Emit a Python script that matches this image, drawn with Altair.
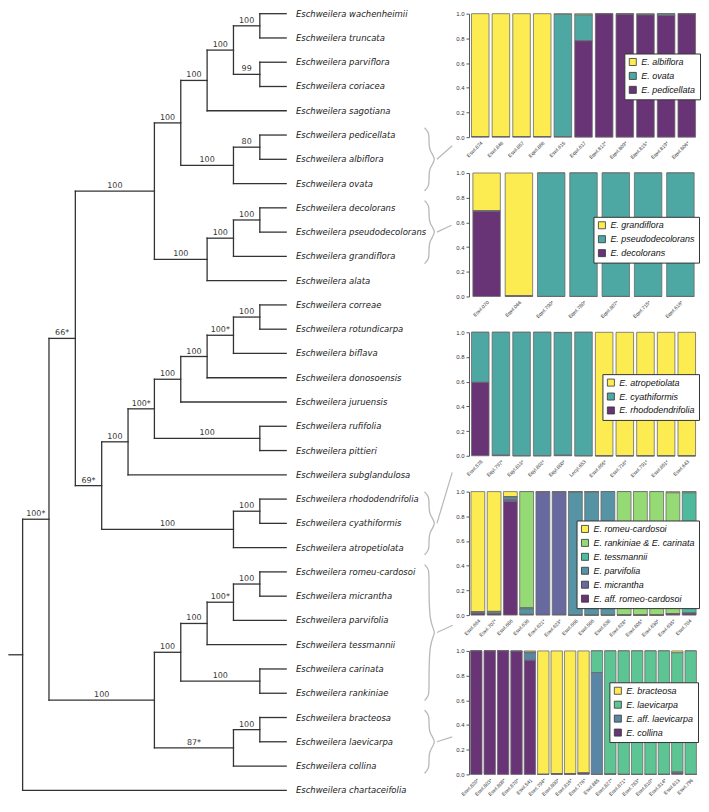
import altair as alt
import pandas as pd

# ---------------- Phylogeny (support label, children) ----------------
TREE = ("", [
    ("100*", [
        ("66*", [
            ("100", [
                ("100", [
                    ("100", [
                        ("100", [
                            ("100", ["wachenheimii", "truncata"]),
                            ("99", ["parviflora", "coriacea"]),
                        ]),
                        "sagotiana",
                    ]),
                    ("100", [
                        ("80", ["pedicellata", "albiflora"]),
                        "ovata",
                    ]),
                ]),
                ("100", [
                    ("100", [
                        ("100", ["decolorans", "pseudodecolorans"]),
                        "grandiflora",
                    ]),
                    "alata",
                ]),
            ]),
            ("69*", [
                ("100", [
                    ("100*", [
                        ("100", [
                            ("100", [
                                ("100*", [
                                    ("100", ["correae", "rotundicarpa"]),
                                    "biflava",
                                ]),
                                "donosoensis",
                            ]),
                            "juruensis",
                        ]),
                        ("100", ["rufifolia", "pittieri"]),
                    ]),
                    "subglandulosa",
                ]),
                ("100", [
                    ("100", ["rhododendrifolia", "cyathiformis"]),
                    "atropetiolata",
                ]),
            ]),
        ]),
        ("100", [
            ("100", [
                ("100", [
                    ("100*", [
                        ("100", ["romeu-cardosoi", "micrantha"]),
                        "parvifolia",
                    ]),
                    "tessmannii",
                ]),
                ("100", ["carinata", "rankiniae"]),
            ]),
            ("87*", [
                ("100", ["bracteosa", "laevicarpa"]),
                "collina",
            ]),
        ]),
    ]),
    "chartaceifolia",
])
GENUS = "Eschweilera"

# tip ranges (first, last tip index) linked to each bar panel
BRACE_TIPS = [(5, 7), (8, 10), (20, 22), (23, 28), (29, 31)]
# where each connector meets its panel (tree units: level, tip index)
CONNECTOR_ENDS = [(16.3, 5.44), (16.27, 8.72), (16.3, 18.9), (16.32, 25.2), (16.3, 29.8)]

# ---------------- Bar panels ----------------
P1_SPECIES = ["E. albiflora", "E. ovata", "E. pedicellata"]
P1_COLORS = ["#FDEC51", "#4DA7A3", "#693476"]
P1_SAMPLES = ["Eswl.874", "Eswl.846", "Eswl.857", "Eqwl.866", "Eswl.615", "Eqwl.617",
              "Eqwl.812*", "Eqwl.809*", "Eqwl.815*", "Eqwl.819*", "Eqwl.806*"]
P1_VALUES = [[0.995, 0.0, 0.005], [0.995, 0.0, 0.005], [0.995, 0.0, 0.005], [0.995, 0.0, 0.005],
             [0.005, 0.99, 0.005], [0.01, 0.21, 0.78], [0.0, 0.002, 0.998], [0.0, 0.005, 0.995],
             [0.005, 0.005, 0.99], [0.0, 0.012, 0.988], [0.0, 0.002, 0.998]]

P2_SPECIES = ["E. grandiflora", "E. pseudodecolorans", "E. decolorans"]
P2_COLORS = ["#FDEC51", "#4DA7A3", "#693476"]
P2_SAMPLES = ["Eswl.070", "Eqwl.066", "Eqwl.790*", "Eqwl.780*", "Eqwl.807*", "Eqwl.715*", "Eqwl.616*"]
P2_VALUES = [[0.305, 0.005, 0.69], [0.995, 0.0, 0.005], [0.0, 1.0, 0.0], [0.0, 1.0, 0.0],
             [0.0, 1.0, 0.0], [0.0, 1.0, 0.0], [0.0, 1.0, 0.0]]

P3_SPECIES = ["E. atropetiolata", "E. cyathiformis", "E. rhododendrifolia"]
P3_COLORS = ["#FDEC51", "#4DA7A3", "#693476"]
P3_SAMPLES = ["Eswl.578", "Eqyl.797*", "Eqyl.813*", "Eqyl.802*", "Eqyl.800*", "Lecyl.653",
              "Eswl.655*", "Eswl.716*", "Eswl.791*", "Eswl.851*", "Eswl.643"]
P3_VALUES = [[0.0, 0.405, 0.595], [0.0, 0.995, 0.005], [0.0, 1.0, 0.0], [0.0, 1.0, 0.0],
             [0.003, 0.992, 0.005], [0.0, 1.0, 0.0], [1.0, 0.0, 0.0], [1.0, 0.0, 0.0],
             [1.0, 0.0, 0.0], [1.0, 0.0, 0.0], [1.0, 0.0, 0.0]]

P4_SPECIES = ["E. romeu-cardosoi", "E. rankiniae & E. carinata", "E. tessmannii",
              "E. parvifolia", "E. micrantha", "E. aff. romeo-cardosoi"]
P4_COLORS = ["#FDEC51", "#95DA74", "#4EB99D", "#5593A5", "#67699F", "#693476"]
P4_SAMPLES = ["Eswl.664", "Eswl.707*", "Eswl.686", "Eswl.636", "Eswl.621*", "Eswl.623*", "Eswl.668",
              "Eswl.586", "Eswl.638", "Eswl.628*", "Eswl.605*", "Eswl.630*", "Eswl.635*", "Eswl.704"]
P4_VALUES = [[0.975, 0.0, 0.0, 0.01, 0.0, 0.015],
             [0.97, 0.005, 0.01, 0.005, 0.0, 0.01],
             [0.04, 0.005, 0.0, 0.02, 0.015, 0.92],
             [0.0, 0.94, 0.01, 0.045, 0.0, 0.005],
             [0.005, 0.0, 0.0, 0.0, 0.99, 0.005],
             [0.005, 0.0, 0.0, 0.0, 0.99, 0.005],
             [0.0, 0.005, 0.0, 0.995, 0.0, 0.0],
             [0.0, 0.0, 0.005, 0.995, 0.0, 0.0],
             [0.0, 0.0, 0.0, 1.0, 0.0, 0.0],
             [0.0, 1.0, 0.0, 0.0, 0.0, 0.0],
             [0.0, 1.0, 0.0, 0.0, 0.0, 0.0],
             [0.0, 1.0, 0.0, 0.0, 0.0, 0.0],
             [0.01, 0.98, 0.0, 0.0, 0.0, 0.01],
             [0.0, 0.01, 0.975, 0.0, 0.0, 0.015]]

P5_SPECIES = ["E. bracteosa", "E. laevicarpa", "E. aff. laevicarpa", "E. collina"]
P5_COLORS = ["#FDEC51", "#5DC594", "#5A86A5", "#693476"]
P5_SAMPLES = ["Eswl.820*", "Eswl.803*", "Eswl.808*", "Eswl.870*", "Eswl.541", "Eswl.794*",
              "Eswl.800*", "Eswl.816*", "Eswl.776*", "Eswl.885", "Eswl.827*", "Eswl.871*",
              "Eswl.783*", "Eswl.810*", "Eswl.814*", "Eswl.813", "Eswl.796"]
P5_VALUES = [[0.0, 0.0, 0.0, 1.0], [0.0, 0.0, 0.0, 1.0], [0.0, 0.0, 0.0, 1.0], [0.003, 0.0, 0.0, 0.997],
             [0.01, 0.005, 0.06, 0.925], [1.0, 0.0, 0.0, 0.0], [0.995, 0.0, 0.0, 0.005],
             [0.995, 0.0, 0.0, 0.005], [0.99, 0.0, 0.0, 0.01], [0.0, 0.175, 0.825, 0.0],
             [0.0, 0.997, 0.0, 0.003], [0.0, 1.0, 0.0, 0.0], [0.0, 1.0, 0.0, 0.0], [0.0, 1.0, 0.0, 0.0],
             [0.0, 1.0, 0.0, 0.0], [0.015, 0.965, 0.01, 0.01], [0.0, 1.0, 0.0, 0.0]]

PANELS = [
    (P1_SPECIES, P1_COLORS, P1_SAMPLES, P1_VALUES, 156, 40),
    (P2_SPECIES, P2_COLORS, P2_SAMPLES, P2_VALUES, 125, 44),
    (P3_SPECIES, P3_COLORS, P3_SAMPLES, P3_VALUES, 134, 42),
    (P4_SPECIES, P4_COLORS, P4_SAMPLES, P4_VALUES, 108, 29),
    (P5_SPECIES, P5_COLORS, P5_SAMPLES, P5_VALUES, 141, 31.5),
]

# ---------------- Tree layout (cladogram) ----------------
TIP_LEVEL = 10
tips = []


def layout(node):
    if isinstance(node, str):
        tips.append(node)
        return {"level": TIP_LEVEL, "y": len(tips) - 1, "label": "", "children": []}
    label, children = node
    kids = [layout(c) for c in children]
    ys = [k["y"] for k in kids]
    return {"level": min(k["level"] for k in kids) - 1, "y": (min(ys) + max(ys)) / 2,
            "label": label, "children": kids}


segs, supports = [], []


def walk(n, parent_level):
    segs.append({"x": parent_level, "x2": n["level"], "y": n["y"], "y2": n["y"]})
    if n["label"]:
        supports.append({"x": (parent_level + n["level"]) / 2, "y": n["y"], "text": n["label"]})
    if n["children"]:
        ys = [k["y"] for k in n["children"]]
        segs.append({"x": n["level"], "x2": n["level"], "y": min(ys), "y2": max(ys)})
        for k in n["children"]:
            walk(k, n["level"])


root = layout(TREE)
walk(root, -0.517)

seg_df = pd.DataFrame(segs)
sup_df = pd.DataFrame(supports)
tip_df = pd.DataFrame({"y": list(range(len(tips))),
                       "x": [TIP_LEVEL + 0.37] * len(tips),
                       "text": [f"{GENUS} {t}" for t in tips]})

brace_rows, conn_rows = [], []
BX, BTIP, BEND = 15.42, 15.72, 15.25
for g, ((a, b), (ex, ey)) in enumerate(zip(BRACE_TIPS, CONNECTOR_ENDS)):
    top, bot, mid = a - 0.3, b + 0.3, (a + b) / 2
    pts = [(BEND, top), (BX, top + 0.2), (BX, top + 0.5), (BX, mid - 0.35), (BTIP, mid),
           (BX, mid + 0.35), (BX, bot - 0.5), (BX, bot - 0.2), (BEND, bot)]
    for k, (px, py) in enumerate(pts):
        brace_rows.append({"g": g, "k": k, "x": px, "y": py})
    conn_rows.append({"x": BTIP, "y": mid, "x2": ex, "y2": ey})
brace_df = pd.DataFrame(brace_rows)
conn_df = pd.DataFrame(conn_rows)

TREE_W, TREE_H = 447, 780
xs = alt.Scale(domain=[-0.517, 16.37], nice=False, zero=False)
ys = alt.Scale(domain=[0, 32], reverse=True, nice=False, zero=False)

branches = alt.Chart(seg_df).mark_rule(color="#333333", strokeWidth=1.3, strokeCap="square").encode(
    x=alt.X("x:Q", scale=xs, axis=None), x2="x2:Q",
    y=alt.Y("y:Q", scale=ys, axis=None), y2="y2:Q")
sup_text = alt.Chart(sup_df).mark_text(font="DejaVu Sans", fontSize=8, color="#333333",
                                       baseline="alphabetic", dy=-3).encode(
    x=alt.X("x:Q", scale=xs, axis=None), y=alt.Y("y:Q", scale=ys, axis=None), text="text:N")
tip_text = alt.Chart(tip_df).mark_text(font="DejaVu Sans", fontSize=8.5, fontStyle="italic",
                                       color="#222222", align="left", baseline="middle").encode(
    x=alt.X("x:Q", scale=xs, axis=None), y=alt.Y("y:Q", scale=ys, axis=None), text="text:N")
braces = alt.Chart(brace_df).mark_line(color="#b8b8b8", strokeWidth=1.3, interpolate="basis").encode(
    x=alt.X("x:Q", scale=xs, axis=None), y=alt.Y("y:Q", scale=ys, axis=None),
    detail="g:N", order="k:Q")
connectors = alt.Chart(conn_df).mark_rule(color="#b8b8b8", strokeWidth=1.2).encode(
    x=alt.X("x:Q", scale=xs, axis=None), x2="x2:Q",
    y=alt.Y("y:Q", scale=ys, axis=None), y2="y2:Q")

tree = alt.layer(branches, braces, connectors, sup_text, tip_text).properties(
    width=TREE_W, height=TREE_H)

# ---------------- Panels ----------------
PANEL_W, PANEL_H = 230, 124


def panel(species, colors, samples, values, lx, ly):
    rows = []
    n = len(species)
    for s, vals in zip(samples, values):
        for k, (sp, v) in enumerate(zip(species, vals)):
            rows.append({"sample": s, "species": sp, "value": v, "rank": n - k})
    df = pd.DataFrame(rows)
    return alt.Chart(df).mark_bar(stroke="#6a6a6a", strokeWidth=0.8).encode(
        x=alt.X("sample:N", sort=samples, title=None,
                scale=alt.Scale(paddingInner=0.15, paddingOuter=0.12),
                axis=alt.Axis(labelAngle=-45, labelFontSize=5, labelFont="Liberation Sans",
                              labelColor="#333333", ticks=False, domain=False, labelPadding=3)),
        y=alt.Y("value:Q", stack="zero", title=None, scale=alt.Scale(domain=[0, 1], nice=False),
                axis=alt.Axis(values=[0, 0.2, 0.4, 0.6, 0.8, 1.0], format=".1f", labelFontSize=6,
                              labelFont="Liberation Sans", labelColor="#333333", tickSize=3,
                              tickColor="#555555", domainColor="#555555", grid=False,
                              labelPadding=2)),
        color=alt.Color("species:N", scale=alt.Scale(domain=species, range=colors),
                        legend=alt.Legend(title=None, orient="none", legendX=lx, legendY=ly,
                                          symbolType="square", symbolSize=50,
                                          symbolStrokeColor="#333333", symbolStrokeWidth=0.8,
                                          labelFont="Liberation Sans", labelFontStyle="italic",
                                          labelFontSize=9, labelColor="#111111", labelOffset=4,
                                          fillColor="white", strokeColor="#333333", padding=4,
                                          rowPadding=3)),
        order=alt.Order("rank:Q", sort="ascending"),
    ).properties(width=PANEL_W, height=PANEL_H)


panels = alt.vconcat(*[panel(*p) for p in PANELS], spacing=36, bounds="flush").resolve_scale(
    color="independent")

chart = alt.hconcat(tree, panels, spacing=1).properties(padding=0).configure_view(stroke=None)

chart.save("out.html", embed_options={"renderer": "svg", "actions": False})
